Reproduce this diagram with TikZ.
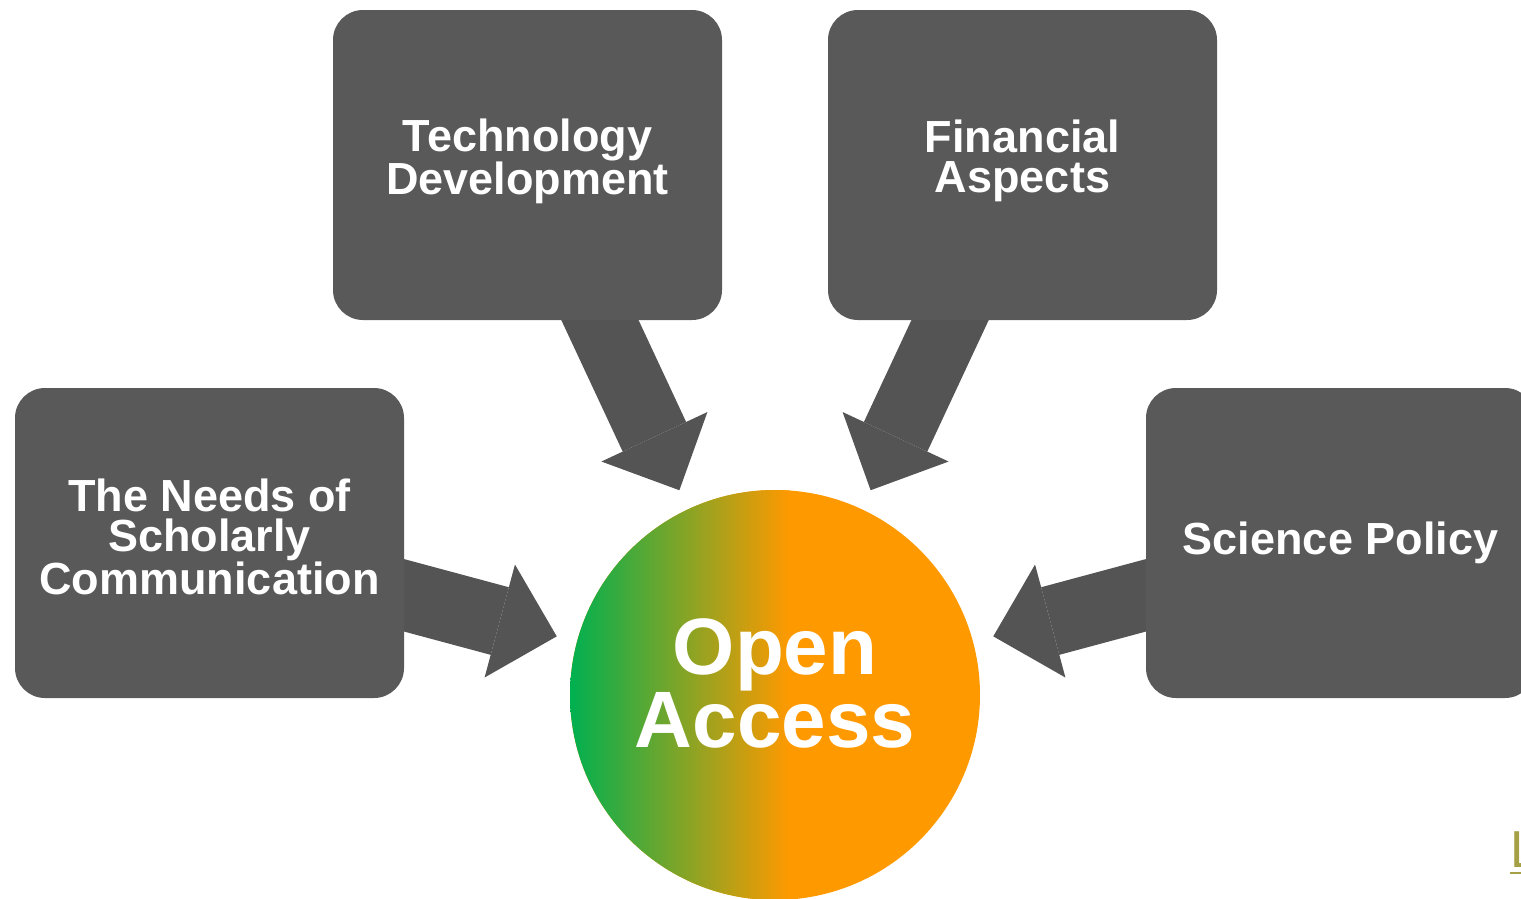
\documentclass[tikz,border=0pt]{standalone}
\usepackage{fontspec}
\setmainfont{Liberation Sans}
\usetikzlibrary{arrows.meta}
\pgfdeclarelayer{background}
\pgfsetlayers{background,main}
\definecolor{boxgray}{HTML}{595959}
\definecolor{arrowgray}{HTML}{545454}
\definecolor{oagreen}{HTML}{00B050}
\definecolor{oaorange}{HTML}{FF9900}
\definecolor{linkolive}{HTML}{A5A046}
\newcommand{\liftby}[1]{\rule[-#1]{0pt}{0pt}}
\begin{document}
\begin{tikzpicture}
[x=1pt, y=-1pt,
 topic/.style={fill=boxgray, rounded corners=30pt, minimum width=389pt, minimum height=310pt,
   inner sep=0pt, text=white, align=center, font=\bfseries\fontsize{45}{40}\selectfont},
 push/.style={arrowgray, line width=70pt, -{Triangle[width=117pt, length=59pt, line width=0pt]}}]
\useasboundingbox (0,0) rectangle (1521,898);
\clip (0,0) rectangle (1521,898);

\node (Tech) at (527.5,165) [topic] {Technology\\Development\liftby{17pt}};
\node (Money) at (1022.5,165) [topic] {Financial\\Aspects\liftby{17pt}};
\node (Needs) at (209.5,543) [topic] {The Needs of\\Scholarly\\Communication\liftby{12pt}};
\node (Policy) at (1340.5,543) [topic] {Science Policy};

\node (OA) at (775,695) [circle, minimum size=410pt, inner sep=0pt, outer sep=21pt,
  path picture={
    \fill[oaorange] (path picture bounding box.south west) rectangle (path picture bounding box.north east);
    \shade[left color=oagreen, right color=oaorange]
      (path picture bounding box.south west) rectangle ([xshift=15pt]path picture bounding box.north);
  }] {};
\node (OAtext) at (775,683.5) [inner sep=0pt, text=white, align=center,
  font=\bfseries\fontsize{80}{71}\selectfont] {Open\\Access};

\begin{pgfonlayer}{background}
\draw[push] (Tech.center) -- (OA);
\draw[push] (Money.center) -- (OA);
\draw[push] (Needs.center) -- (OA);
\draw[push] (Policy.center) -- (OA);
\end{pgfonlayer}

\node (Link) at (1510,867) [anchor=base west, inner sep=0pt, text=linkolive,
  font=\fontsize{52}{60}\selectfont] {L};
\draw[linkolive, line width=2.5pt] ([yshift=-6pt]Link.base west) -- ([yshift=-6pt]Link.base east);
\end{tikzpicture}
\end{document}
